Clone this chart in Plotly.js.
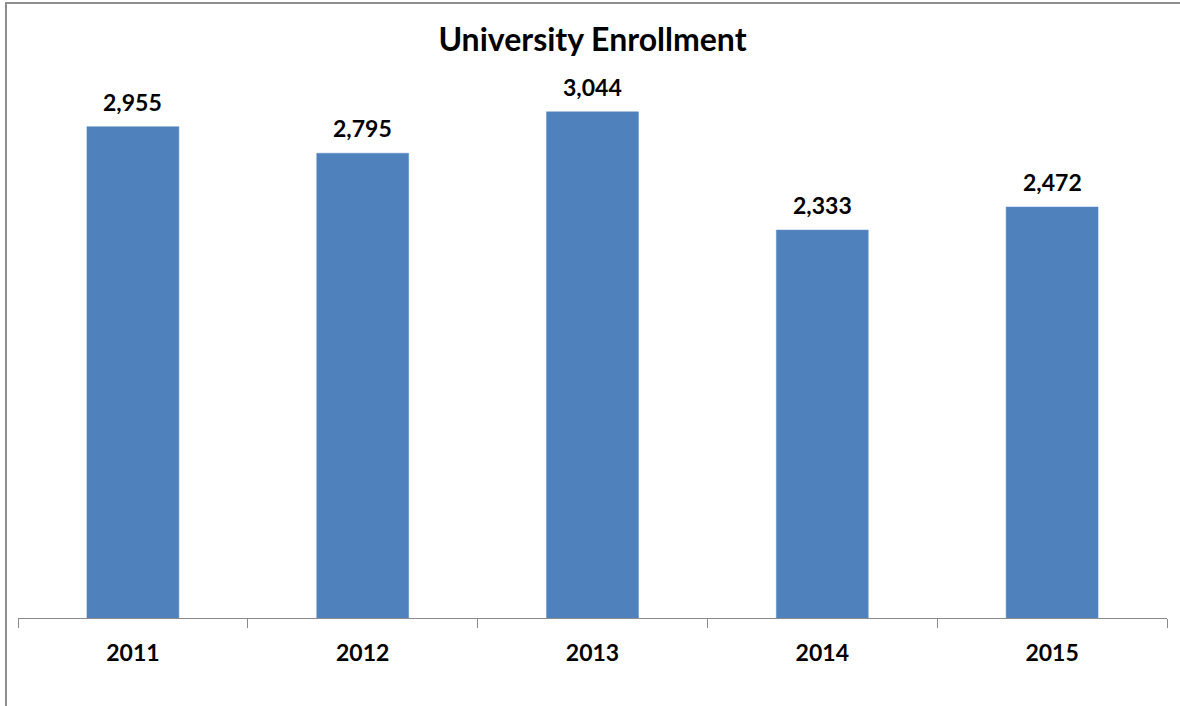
<!DOCTYPE html>
<html>
<head>
<meta charset="utf-8">
<script src="https://cdn.plot.ly/plotly-3.0.1.min.js"></script>
<style>
  html, body { margin: 0; padding: 0; background: #ffffff; overflow: hidden; }
  #chart { width: 1180px; height: 706px; position: absolute; left: 0; top: 0; }
  #frame { position: absolute; left: 5px; top: 2px; width: 1200px; height: 720px;
           border-left: 2px solid #8e8e8e; border-top: 2px solid #8e8e8e; pointer-events: none; }
</style>
</head>
<body>
<div id="chart"></div>
<div id="frame"></div>
<script>
const years = ['2011', '2012', '2013', '2014', '2015'];
const enrollment = [2955, 2795, 3044, 2333, 2472];
const chartTitle = 'University Enrollment';

const fontFamily = 'Lato, "Open Sans", sans-serif';

const trace = {
  type: 'bar',
  x: years,
  y: enrollment,
  marker: { color: '#4f81bd', line: { color: '#5b8cc6', width: 0.5 } },
  hoverinfo: 'x+y',
  showlegend: false
};

// category axes place annotations by category index
const labels = years.map((yr, i) => ({
  x: i,
  y: enrollment[i],
  xref: 'x',
  yref: 'y',
  text: enrollment[i].toLocaleString('en-US'),
  showarrow: false,
  yanchor: 'bottom',
  yshift: 9,
  font: { family: fontFamily, size: 23, color: '#000000', weight: 'bold' }
}));

const layout = {
  width: 1180,
  height: 706,
  paper_bgcolor: '#ffffff',
  plot_bgcolor: '#ffffff',
  margin: { l: 18, r: 13, t: 36, b: 88 },
  bargap: 0.6,
  title: {
    text: '<b>' + chartTitle + '</b>',
    font: { family: fontFamily, size: 32, color: '#000000' },
    x: 0.5,
    xanchor: 'center',
    xref: 'paper',
    y: 1 - 40 / 706,
    yref: 'container',
    yanchor: 'middle'
  },
  xaxis: {
    type: 'category',
    range: [-0.5, years.length - 0.5],
    autorange: false,
    showline: true,
    linecolor: '#8a8a8a',
    linewidth: 1,
    ticks: 'outside',
    tickson: 'boundaries',
    ticklen: 9,
    tickcolor: '#8a8a8a',
    tickwidth: 1,
    ticklabelstandoff: 14,
    tickangle: 0,
    tickfont: { family: fontFamily, size: 23, color: '#000000', weight: 'bold' },
    showgrid: false,
    zeroline: false,
    fixedrange: true
  },
  yaxis: {
    range: [0, 3500],
    autorange: false,
    visible: false,
    showgrid: false,
    zeroline: false,
    fixedrange: true
  },
  annotations: labels
};

Plotly.newPlot('chart', [trace], layout, { displayModeBar: false, staticPlot: true });
</script>
</body>
</html>
